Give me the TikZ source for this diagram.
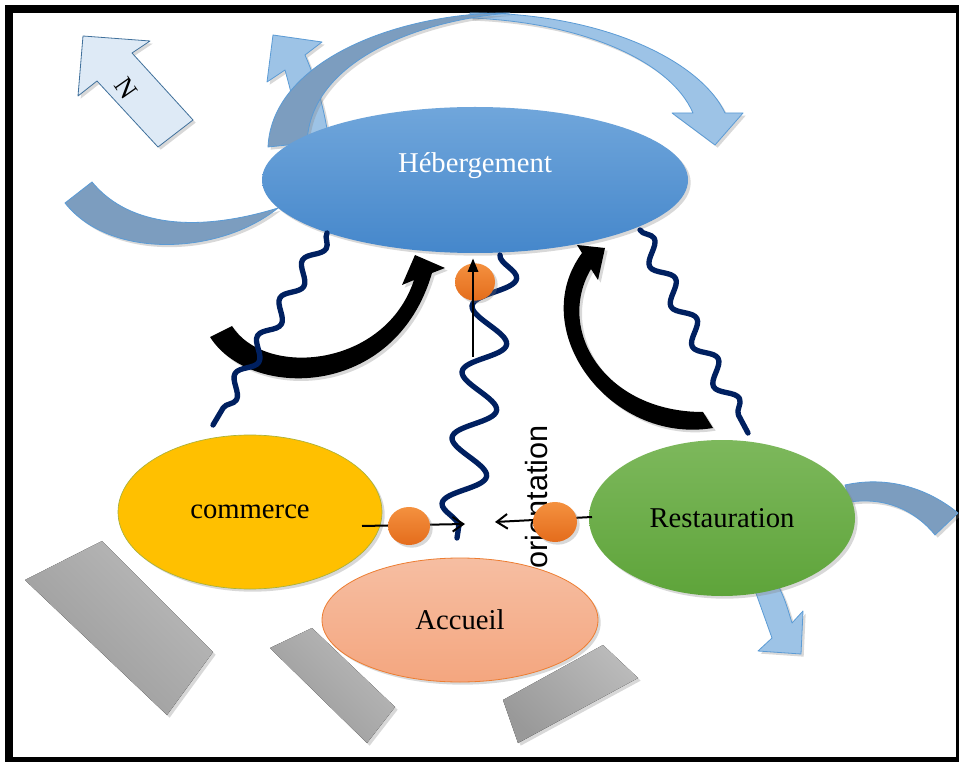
\documentclass[tikz,border=0pt]{standalone}
\usepackage{fontspec}
\setmainfont{Liberation Serif}
\newfontfamily\arialfont{Liberation Sans}
\usetikzlibrary{shapes.geometric, arrows.meta, decorations.pathmorphing, shadows, positioning}

\definecolor{hebtop}{HTML}{70A6DB}
\definecolor{hebbot}{HTML}{4587CB}
\definecolor{arcdark}{HTML}{7C9DBF}
\definecolor{arclight}{HTML}{9DC3E6}
\definecolor{arcline}{HTML}{5B9BD5}
\definecolor{nfill}{HTML}{DEEAF6}
\definecolor{nline}{HTML}{41719C}
\definecolor{gold}{HTML}{FFC000}
\definecolor{goldline}{HTML}{A9B13A}
\definecolor{greentop}{HTML}{7DB85C}
\definecolor{greenbot}{HTML}{5EA43A}
\definecolor{salmontop}{HTML}{F6BEA2}
\definecolor{salmonbot}{HTML}{F4A67F}
\definecolor{salmonline}{HTML}{ED7D31}
\definecolor{dottop}{HTML}{F4913F}
\definecolor{dotbot}{HTML}{E46C1C}
\definecolor{navy}{HTML}{002060}

\begin{document}
\begin{tikzpicture}[
    x=0.75pt, y=-0.75pt,
    softshadow/.style={drop shadow={opacity=0.3, shadow xshift=2pt, shadow yshift=-2pt}},
    lbl/.style={font=\fontsize{21.5}{26}\selectfont},
    zone/.style={ellipse, inner sep=0pt, lbl, softshadow},
    dot/.style={ellipse, inner sep=0pt, top color=dottop, bottom color=dotbot, softshadow},
    blockarrow/.style={draw=arcline, line width=0.6pt, line join=round, softshadow},
    slab/.style={top color=black!27, bottom color=black!40, shading angle=-45, softshadow},
    wave/.style={draw=navy, line width=4pt, line cap=round, line join=round, decorate},
    link/.style={line width=1.5pt, -{Straight Barb[length=8pt, width=11pt, line width=1.5pt]}}
  ]

  % Page and frame
  \useasboundingbox (0,0) rectangle (959,762);
  \fill[white] (0,0) rectangle (959,762);
  \draw[line width=6pt] (9,9) rectangle (960,761);

  % North arrow
  \filldraw[blockarrow, fill=nfill, draw=nline] (158,147) -- (97,81) -- (78,96) -- (83,36)
    -- (150,41) -- (132,53) -- (193,120) -- cycle;
  \node[rotate=-55, font=\fontsize{20}{22}\selectfont] (north) at (126,88) {N};

  % Curved arrows round Hebergement
  \filldraw[blockarrow, fill=arclight] (300,150) .. controls (298,120) and (292,95) .. (285,70)
    -- (267,82) -- (273,35) -- (322,42) -- (305,55) .. controls (318,85) and (326,115) .. (330,150) -- cycle;
  \filldraw[blockarrow, fill=arclight] (470,13) .. controls (600,12) and (700,60) .. (725,113)
    -- (743,113) -- (715,145) -- (672,113) -- (693,113) .. controls (670,60) and (580,22) .. (470,18) -- cycle;
  \filldraw[blockarrow, fill=arcdark] (268,147) .. controls (272,60) and (400,12) .. (510,13)
    .. controls (420,20) and (310,60) .. (307,143) -- cycle;
  \filldraw[blockarrow, fill=arcdark] (65,203) .. controls (110,260) and (220,255) .. (278,208)
    .. controls (200,232) and (130,228) .. (92,182) -- cycle;

  % Hebergement
  \node[zone, minimum width=319.5pt, minimum height=109.5pt, top color=hebtop, bottom color=hebbot,
    label={[lbl, text=white, yshift=11pt]center:Hébergement}] (heb) at (475,180) {};

  % Black curved arrows
  \fill[black, softshadow] (210,337) .. controls (250,400) and (395,400) .. (432,273)
    -- (445,268) -- (415,255) -- (402,285) -- (414,280) .. controls (385,368) and (265,378) .. (232,326) -- cycle;
  \fill[black, softshadow] (713,428) .. controls (610,445) and (525,330) .. (582,253)
    -- (577,245) -- (605,248) -- (598,280) -- (591,269) .. controls (555,330) and (605,412) .. (703,412) -- cycle;

  % Wavy links
  \coordinate (wla) at (327,233);
  \coordinate (wlb) at (213,425);
  \coordinate (wma) at (500,255);
  \coordinate (wmb) at (457,538);
  \coordinate (wra) at (640,230);
  \coordinate (wrb) at (748,433);
  \draw[wave, decoration={snake, amplitude=5.5pt, segment length=33pt}] (wla) -- (wlb);
  \draw[wave, decoration={snake, amplitude=15pt, segment length=50pt}] (wma) -- (wmb);
  \draw[wave, decoration={snake, amplitude=6.5pt, segment length=34pt}] (wra) -- (wrb);

  % Arrows behind Restauration
  \filldraw[blockarrow, fill=arcdark] (845,485) .. controls (890,475) and (930,490) .. (958,513)
    -- (935,535) .. controls (915,510) and (885,497) .. (850,502) -- cycle;
  \filldraw[blockarrow, fill=arclight] (753,585) .. controls (762,610) .. (772,638) -- (758,651)
    -- (801,654) -- (803,611) -- (792,623) .. controls (785,600) .. (778,585) -- cycle;

  % Grey slabs
  \fill[slab] (25,580) -- (102,541) -- (213,652) -- (167,715) -- cycle;
  \fill[slab] (270,648) -- (312,628) -- (395,707) -- (367,743) -- cycle;
  \fill[slab] (503,700) -- (603,645) -- (638,678) -- (518,743) -- cycle;

  % Zones
  \node[zone, minimum width=198pt, minimum height=115.5pt, fill=gold, draw=goldline, line width=0.5pt] (com) at (250,512) {commerce};
  \node[zone, minimum width=199.5pt, minimum height=117pt, top color=greentop, bottom color=greenbot] (rest) at (722,518) {Restauration};
  \node[zone, minimum width=207pt, minimum height=93pt, top color=salmontop, bottom color=salmonbot,
    draw=salmonline, line width=0.6pt] (acc) at (460,620) {Accueil};

  \node[rotate=90, font=\arialfont\fontsize{23}{26}\selectfont] (orient) at (537,497) {orientation};

  % Flows
  \coordinate (cstart) at (362,526);
  \coordinate (cend) at (465,524);
  \coordinate (rstart) at (592,517);
  \coordinate (rend) at (495,522);
  \draw[link] (cstart) -- (cend);
  \draw[link] (rstart) -- (rend);

  \node[dot, minimum width=30pt, minimum height=28pt] (dotheb) at (475,282) {};
  \node[dot, minimum width=31.5pt, minimum height=28.5pt] (dotcom) at (409,526) {};
  \node[dot, minimum width=33pt, minimum height=30pt] (dotrest) at (555,522) {};

  \coordinate (vbot) at (473,357);
  \draw[line width=0.9pt, -{Triangle[length=10pt, width=8pt]}, shorten >=4pt] (vbot) -- (vbot |- heb.south);

\end{tikzpicture}
\end{document}
